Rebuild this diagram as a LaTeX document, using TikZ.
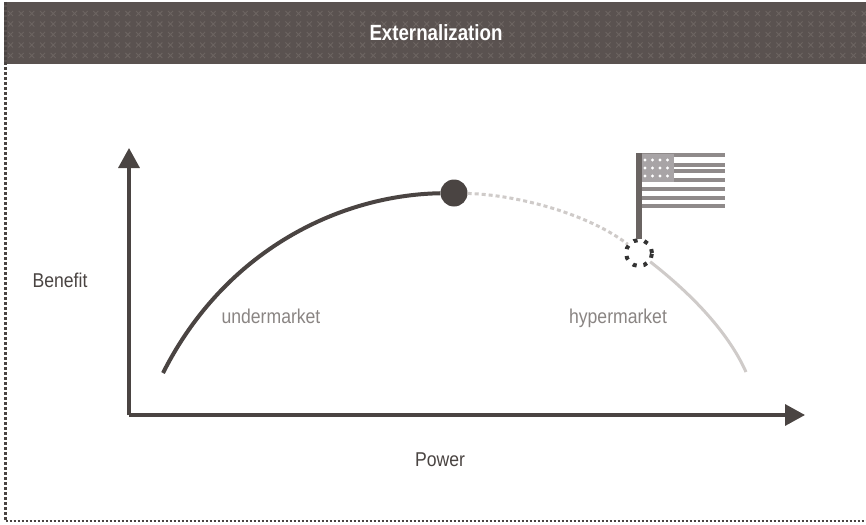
\documentclass[tikz,border=0pt]{standalone}
\usepackage{graphicx}
\usepackage{fontspec}
\setmainfont{Liberation Sans}
\usetikzlibrary{arrows.meta}
\definecolor{band}{HTML}{5A5250}
\definecolor{bandlight}{HTML}{6C6461}
\definecolor{ink}{HTML}{4A4442}
\definecolor{pole}{HTML}{6A6462}
\definecolor{stripe}{HTML}{8F8A8A}
\definecolor{canton}{HTML}{A8A4A6}
\definecolor{soft}{HTML}{CFCBC9}
\definecolor{labelgrey}{HTML}{8A8583}
\newcommand{\narrow}[2]{\scalebox{#1}[1]{#2}}
\tikzset{
 px/.style={x=1pt,y=-1pt},
 axisline/.style={draw=ink,line width=3.4pt,-{Triangle[length=20pt,width=21pt]}},
 lab/.style={font=\fontsize{20}{22}\selectfont,text=ink,inner sep=0pt,anchor=base},
 curvelab/.style={font=\fontsize{20}{22}\selectfont,text=labelgrey,inner sep=0pt,anchor=base},
}
\begin{document}
\begin{tikzpicture}[px]
\useasboundingbox (0,0) rectangle (866,524);
\fill[white] (0,0) rectangle (866,524);
\fill[band] (4,2) rectangle (866,64);
\foreach \r in {0,...,4}{
  \foreach \c in {0,...,80}{
    \draw[bandlight,line width=0.9pt]
      ({8+\c*10.67},{11+\r*10.5}) -- ++(5,5)
      ({8+\c*10.67},{16+\r*10.5}) -- ++(5,-5);
  }
}
\draw[ink,line width=3pt,dash pattern=on 3pt off 2pt] (5.5,2) -- (5.5,521);
\draw[ink,line width=2pt,dash pattern=on 2pt off 2pt] (5.5,521) -- (866,521);
\node[font=\bfseries\fontsize{22}{24}\selectfont,text=white,inner sep=0pt,anchor=base] (title) at (436,41) {\narrow{0.85}{Externalization}};
\coordinate (origin) at (129,415);
\coordinate (ytop) at (129,148);
\coordinate (xend) at (805,415);
\draw[axisline] (origin) -- (ytop);
\draw[axisline] (origin) -- (xend);
\node[lab] (benefit) at (60,287) {\narrow{0.88}{Benefit}};
\node[lab] (power) at (440,466) {\narrow{0.88}{Power}};
\node[curvelab] (under) at (271,323) {\narrow{0.88}{undermarket}};
\node[curvelab] (hyper) at (618,323) {\narrow{0.88}{hypermarket}};
\coordinate (start) at (163,373);
\coordinate (stop) at (746,372);
\node[circle,fill=ink,minimum size=27pt,inner sep=0pt] (peak) at (454,193) {};
\node[circle,minimum size=28pt,inner sep=0pt] (ring) at (639,253) {};
\draw[ink,line width=4pt] (start) .. controls (225,250) and (340,195) .. (peak);
\draw[soft,line width=3pt,dash pattern=on 4pt off 3pt] (peak) .. controls (520,195) and (590,215) .. (ring);
\draw[soft,line width=3pt] (ring) .. controls (680,285) and (725,325) .. (stop);
\draw[black!80,line width=4pt,dash pattern=on 4pt off 6.9pt] (ring.center) ++(0:13) arc[start angle=0,end angle=-360,radius=13];
% flag
\coordinate (flagtop) at (ring.north |- 0,153);
\foreach \y in {155,165,171,180,189,198,206}{\draw[stripe,line width=3.4pt] (639,\y) -- (725,\y);}
\fill[canton] (640,154) rectangle (674,182);
\foreach \r in {0,1,2}{\foreach \c in {0,1,2,3}{\fill[white] ({645+\c*7.5},{160+\r*8}) circle (1.6);}}
\draw[pole,line width=6pt] (ring.north) -- (flagtop);
\end{tikzpicture}
\end{document}
